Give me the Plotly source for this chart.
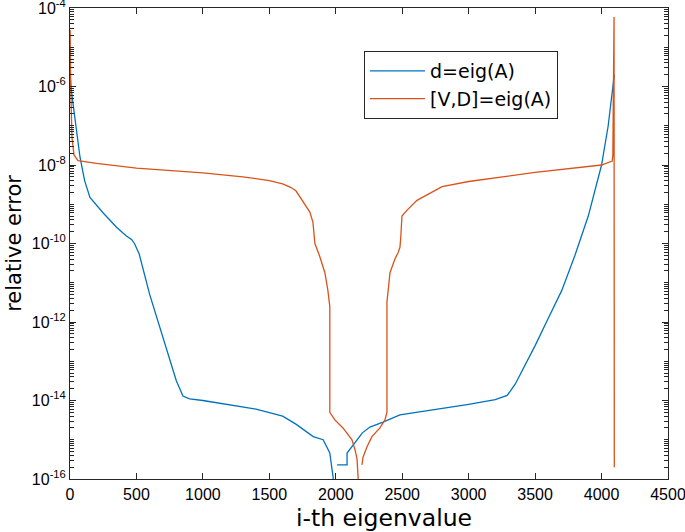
import plotly.graph_objects as go

# d = eig(A)
blue_x = [1, 10, 25, 50, 75, 110, 150, 250, 350, 420, 465, 485, 520, 600, 700, 800, 850, 900,
          1000, 1200, 1400, 1600, 1700, 1830, 1905, 1955, 1980, 1990, None,
          2010, 2085, 2085, 2120, 2160, 2200, 2257, 2355, 2483, 2633, 2800, 3000,
          3200, 3290, 3350, 3420, 3500, 3600, 3700, 3800, 3900, 4000, 4050, 4096]
blue_y = [2.0e-6, 8e-7, 3.2e-7, 8e-8, 1.6e-8, 4e-9, 1.5e-9, 6e-10, 2.6e-10, 1.6e-10, 1.25e-10,
          1.0e-10, 5.5e-11, 5e-12, 4e-13, 3.2e-14, 1.3e-14, 1.1e-14, 1e-14, 7.6e-15, 6e-15,
          4e-15, 2.5e-15, 1.2e-15, 1e-15, 4.6e-16, 1.1e-16, 4e-17, None,
          2.3e-16, 2.3e-16, 4.6e-16, 6.6e-16, 1e-15, 1.5e-15, 2.1e-15, 2.8e-15, 4.3e-15,
          5.1e-15, 6.3e-15, 8e-15, 1.05e-14, 1.35e-14, 2.6e-14, 7.5e-14, 2.5e-13, 1.26e-12,
          6.3e-12, 5e-11, 5e-10, 1e-8, 1e-7, 2e-6]

# [V,D] = eig(A)
orange_x = [1, 5, 15, 30, 60, 200, 500, 1000, 1300, 1500, 1600, 1660, 1700, 1740, 1780,
            1805, 1828, 1843, 1880, 1918, 1940, 1955, 1955, 1993, 2054, 2122, 2145, 2160,
            2168, 2175, None,
            2197, 2205, 2235, 2272, 2332, 2370, 2385, 2385, 2408, 2445, 2470, 2483, 2490,
            2498, 2535, 2611, 2800, 3000, 3500, 4000, 4080, 4085, 4094, 4096]
orange_y = [2.75e-5, 1e-6, 5e-8, 1.8e-8, 1.3e-8, 1.1e-8, 8.3e-9, 6.3e-9, 5e-9, 4e-9, 3.3e-9,
            2.7e-9, 2.2e-9, 1.4e-9, 8.5e-10, 6.3e-10, 3.5e-10, 1e-10, 4.6e-11, 1.8e-11,
            6.6e-12, 2.5e-12, 5e-15, 3.2e-15, 2e-15, 1e-15, 5.5e-16, 3.2e-16, 1.1e-16, 4e-17,
            None,
            2.3e-16, 3.6e-16, 6.6e-16, 1.2e-15, 2e-15, 3.2e-15, 5e-15, 3.2e-12, 1.8e-11,
            4e-11, 6e-11, 8e-11, 1.6e-10, 5e-10, 7e-10, 1.26e-9, 2.8e-9, 3.8e-9, 6.5e-9,
            1e-8, 1.26e-8, 1.8e-8, 5.9e-5, 2e-16]

x_ticks = [0, 500, 1000, 1500, 2000, 2500, 3000, 3500, 4000, 4500]
y_exps = [-4, -6, -8, -10, -12, -14, -16]

FONT = "DejaVu Sans"
TICK_FONT = "Liberation Sans"
AX = "#262626"

y_ticks = [10.0 ** e for e in y_exps]
y_labels = ["10<sup>%d</sup>" % e for e in y_exps]
# major inside ticks did not render, so every tick mark goes through "minor"
y_minor = [m * 10.0 ** e for e in range(-16, -4) for m in range(1, 10)] + [1e-4]

fig = go.Figure()
fig.add_trace(go.Scatter(x=blue_x, y=blue_y, mode="lines", name="d=eig(A)",
                         line=dict(color="#0072BD", width=1.3), connectgaps=False))
fig.add_trace(go.Scatter(x=orange_x, y=orange_y, mode="lines", name="[V,D]=eig(A)",
                         line=dict(color="#D95319", width=1.3), connectgaps=False))

axis_common = dict(showline=True, linecolor=AX, linewidth=1, mirror="ticks",
                   ticks="inside", ticklen=6, tickwidth=1, tickcolor=AX,
                   showgrid=False, zeroline=False, automargin=False,
                   ticklabeloverflow="allow",
                   tickfont=dict(family=TICK_FONT, size=16, color="black"))

fig.update_layout(
    width=685, height=532,
    margin=dict(l=70, r=17, t=8, b=53),
    plot_bgcolor="white", paper_bgcolor="white",
    font=dict(family=FONT, color="black"),
    xaxis=dict(range=[0, 4500], tickmode="array", tickvals=x_ticks,
               ticklabelstandoff=1,
               minor=dict(tickmode="array", tickvals=x_ticks, ticks="inside",
                          ticklen=6, tickwidth=1, tickcolor=AX),
               **axis_common),
    yaxis=dict(type="log", range=[-16, -4], tickmode="array", tickvals=y_ticks,
               ticktext=y_labels,
               title=dict(text="relative error", font=dict(family=FONT, size=21), standoff=4),
               minor=dict(tickmode="array", tickvals=y_minor, ticks="inside",
                          ticklen=4, tickwidth=1, tickcolor=AX),
               **axis_common),
    legend=dict(x=0.4916, y=0.9087, xanchor="left", yanchor="top",
                bordercolor=AX, borderwidth=1, bgcolor="white",
                font=dict(family=FONT, size=19), itemwidth=55, tracegroupgap=0),
    showlegend=True,
)

# x-axis title sits a little right of centre in the original
fig.add_annotation(text="i-th eigenvalue", xref="paper", yref="paper", x=0.525, y=0,
                   xanchor="center", yanchor="top", yshift=-23, showarrow=False,
                   font=dict(family=FONT, size=23.5, color="black"))

# drop the default 8px page margin so the figure fills the window
fig.write_html("out.html", config={"displayModeBar": False},
               post_script="document.body.style.margin='0';")
